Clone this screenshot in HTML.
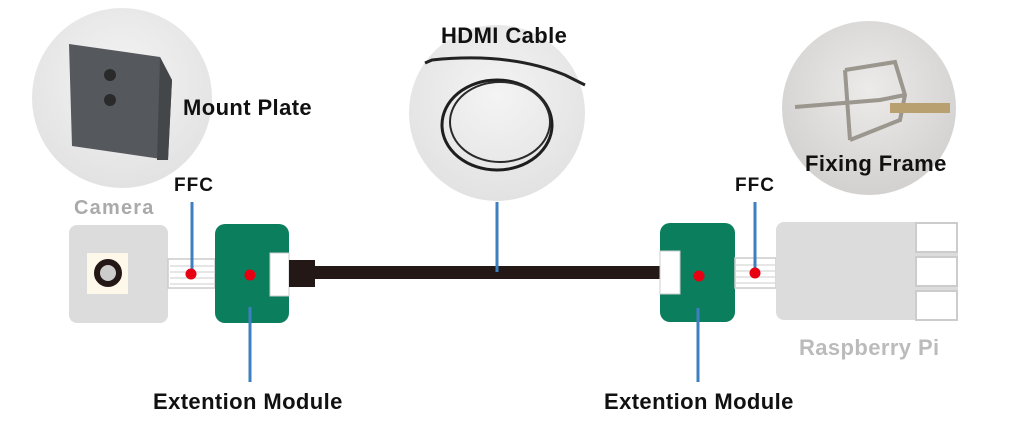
<!DOCTYPE html>
<html><head><meta charset="utf-8"><style>
body{margin:0;width:1024px;height:429px;background:#fff;overflow:hidden;position:relative;font-family:"Liberation Sans",Arial,sans-serif;font-weight:bold}
.a{position:absolute}
.t{position:absolute;white-space:nowrap;font-weight:bold;letter-spacing:0.4px}
</style></head><body>
<svg class="a" style="left:0;top:0" width="1024" height="429">
<defs>
<radialGradient id="g" cx="50%" cy="40%" r="60%"><stop offset="0" stop-color="#f4f4f4"/><stop offset="1" stop-color="#e2e2e2"/></radialGradient>
<radialGradient id="g2" cx="50%" cy="40%" r="60%"><stop offset="0" stop-color="#ecebea"/><stop offset="1" stop-color="#d3d1cf"/></radialGradient>
</defs>
<circle cx="122" cy="98" r="90" fill="url(#g)"/>
<circle cx="497" cy="113" r="88" fill="url(#g)"/>
<circle cx="869" cy="108" r="87" fill="url(#g2)"/>
<polygon points="69,44 160,57 172,80 168,160 72,146" fill="#55585c"/>
<polygon points="160,57 172,80 168,160 157,160" fill="#44474a"/>
<circle cx="110" cy="75" r="6" fill="#2a2a2a"/><circle cx="110" cy="100" r="6" fill="#2a2a2a"/>
<ellipse cx="497" cy="125" rx="55" ry="45" fill="none" stroke="#1e1e1e" stroke-width="3"/>
<ellipse cx="500" cy="122" rx="50" ry="40" fill="none" stroke="#2a2a2a" stroke-width="2"/>
<path d="M425,63 L432,60 Q510,52 565,75 L585,85" fill="none" stroke="#222" stroke-width="3"/>
<path d="M795,107 L880,100 L905,95 M845,70 L850,140 M845,70 L895,62 L905,95 L900,120 L850,140" fill="none" stroke="#9b968e" stroke-width="4"/>
<rect x="890" y="103" width="60" height="10" fill="#b8a070"/>
<rect x="69" y="225" width="99" height="98" rx="8" fill="#dcdcdc"/>
<rect x="87" y="253" width="41" height="41" fill="#fdf8ea"/>
<circle cx="108" cy="273" r="11" fill="#ccc" stroke="#231815" stroke-width="6"/>
<rect x="168" y="259" width="47" height="29" fill="#fff" stroke="#ccc" stroke-width="1.5"/>
<g stroke="#ccc"><line x1="170" y1="266" x2="214" y2="266"/><line x1="170" y1="272" x2="214" y2="272"/><line x1="170" y1="278" x2="214" y2="278"/><line x1="170" y1="284" x2="214" y2="284"/></g>
<line x1="192" y1="202" x2="192" y2="270" stroke="#3d7fc1" stroke-width="3"/>
<circle cx="191" cy="274" r="5.5" fill="#e60012"/>
<rect x="215" y="224" width="74" height="99" rx="10" fill="#0b7e5e"/>
<rect x="270" y="253" width="19" height="43" fill="#fff" stroke="#ccc"/>
<circle cx="250" cy="275" r="5.5" fill="#e60012"/>
<line x1="250" y1="307" x2="250" y2="382" stroke="#3d7fc1" stroke-width="3"/>
<rect x="289" y="260" width="26" height="27" fill="#231815"/>
<rect x="315" y="266" width="346" height="13" fill="#231815"/>
<line x1="497" y1="202" x2="497" y2="272" stroke="#3d7fc1" stroke-width="3"/>
<rect x="660" y="223" width="75" height="99" rx="10" fill="#0b7e5e"/>
<rect x="660" y="251" width="20" height="43" fill="#fff" stroke="#ccc"/>
<circle cx="699" cy="276" r="5.5" fill="#e60012"/>
<line x1="698" y1="308" x2="698" y2="382" stroke="#3d7fc1" stroke-width="3"/>
<rect x="735" y="258" width="41" height="30" fill="#fff" stroke="#ccc" stroke-width="1.5"/>
<g stroke="#ccc"><line x1="736" y1="265" x2="775" y2="265"/><line x1="736" y1="271" x2="775" y2="271"/><line x1="736" y1="277" x2="775" y2="277"/><line x1="736" y1="283" x2="775" y2="283"/></g>
<line x1="755" y1="202" x2="755" y2="270" stroke="#3d7fc1" stroke-width="3"/>
<circle cx="755" cy="273" r="5.5" fill="#e60012"/>
<rect x="776" y="222" width="182" height="98" rx="8" fill="#dcdcdc"/>
<g fill="#fff" stroke="#ccc" stroke-width="2"><rect x="916" y="223" width="41" height="29"/><rect x="916" y="257" width="41" height="29"/><rect x="916" y="291" width="41" height="29"/></g>
</svg>
<div class="t" style="left:183px;top:95px;font-size:22px;color:#111">Mount Plate</div>
<div class="t" style="left:441px;top:23px;font-size:22px;color:#111">HDMI Cable</div>
<div class="t" style="left:805px;top:151px;font-size:22px;color:#111">Fixing Frame</div>
<div class="t" style="left:74px;top:197px;font-size:20px;color:#aaa;letter-spacing:1.2px">Camera</div>
<div class="t" style="left:174px;top:175px;font-size:19px;color:#111;letter-spacing:1px">FFC</div>
<div class="t" style="left:735px;top:175px;font-size:19px;color:#111;letter-spacing:1px">FFC</div>
<div class="t" style="left:799px;top:335px;font-size:22px;color:#bbb">Raspberry Pi</div>
<div class="t" style="left:153px;top:389px;font-size:22px;color:#111">Extention Module</div>
<div class="t" style="left:604px;top:389px;font-size:22px;color:#111">Extention Module</div>
</body></html>
